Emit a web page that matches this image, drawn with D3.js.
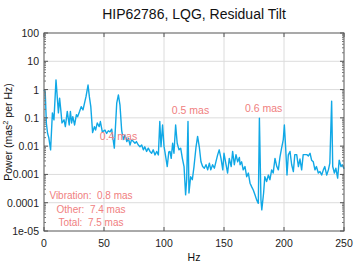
<!DOCTYPE html>
<html><head><meta charset="utf-8">
<script src="https://cdn.jsdelivr.net/npm/d3@7"></script>
<style>body{margin:0;background:#fff}svg{display:block;font-family:"Liberation Sans",Arial,sans-serif}text{white-space:pre}</style>
</head><body><svg id="c" width="362" height="273"></svg>
<script>
const freq = [0,1,2,3,4,5.5,7,8.3,10,11.4,12,13,14,15,16.7,17.8,19.4,21,22,23,24,25.5,27,28,29.7,31,32.5,34,35,36.7,37.8,39,40.5,42,43,44.4,46,47,48.6,
50.8,52.2,53.6,55,56.4,58.6,60.6,62,63.3,64.7,66,67.5,69,70.3,71.7,73,74.5,75.8,77,78.6,80,81.4,82.8,84,85.5,86.9,88.3,89.7,91,92.5,93.9,95.3,96.5,97.5,98.8,
100,101.5,102.7,104,105,106,107.2,108.3,109.7,111,112.5,113.9,115.3,116.7,118,118.9,120,120.8,122.2,123.6,125,126.7,128,129.4,130.8,132.2,133.6,135,136.4,137.8,139,140.5,142,143,144.7,146,147.5,149,
150,151.7,153,154.4,156,157.2,158.6,160,161.4,162.8,163.4,164.7,166,167.5,168.9,170.3,171.7,173,174.4,175.8,177.2,178.6,179.5,180.8,181.5,183,184,185.5,187,188.3,189.7,191,192.5,194,195.3,196.7,198,199.4,
200.3,201.4,202.5,203.6,205,206.4,207.8,209,210.6,212,213.3,214.7,216,217.5,219,220.3,221.7,223,224.4,225.8,227,228.6,230,231.4,232.8,234,235.6,237,238.2,239.7,240.6,242,243.2,244.7,246,247.5,248.6,250];
const power = [1,0.83,0.063,0.028,0.02,0.0074,0.15,0.085,2.2,0.34,0.15,0.5,0.19,0.066,0.085,0.049,0.17,0.056,0.17,0.066,0.11,0.056,0.13,0.11,0.17,0.25,0.19,0.37,0.56,1.45,0.56,0.25,0.03,0.049,0.037,0.066,0.049,0.074,0.032,
0.037,0.028,0.035,0.032,0.04,0.0085,0.33,0.65,0.29,0.037,0.017,0.025,0.0145,0.019,0.011,0.017,0.0145,0.0126,0.0145,0.011,0.0095,0.011,0.0074,0.0095,0.0065,0.0085,0.0065,0.0056,0.0074,0.0049,0.0065,0.0049,0.074,0.0095,0.056,
0.01,0.004,0.0019,0.0063,0.0065,0.0037,0.0126,0.0056,0.056,0.0126,0.0074,0.0085,0.0037,0.0019,0.00019,0.00065,0.074,0.00022,0.00083,0.00065,0.0019,0.0095,0.022,0.0095,0.0028,0.0019,0.00166,0.0022,0.00145,0.0025,0.00145,0.0022,0.00166,0.0025,0.0049,0.0074,0.0037,0.00145,
0.0056,0.0022,0.00112,0.0037,0.0019,0.0065,0.0022,0.005,0.0028,0.004,0.0022,0.0028,0.00145,0.0019,0.00083,0.00112,0.00049,0.00037,0.00028,0.00019,0.000126,0.000095,0.098,0.000126,0.000056,0.00022,0.00083,0.00056,0.00095,0.00065,0.00145,0.00112,0.0037,0.0019,0.00145,0.0043,0.0085,0.017,
0.056,0.0085,0.00095,0.0049,0.0065,0.0022,0.00126,0.005,0.005,0.0019,0.0035,0.00145,0.005,0.005,0.005,0.0045,0.0056,0.0032,0.0028,0.00145,0.0019,0.00112,0.00126,0.00095,0.00145,0.0019,0.00095,0.00145,0.0025,0.39,0.0019,0.00112,0.00166,0.00074,0.0032,0.0019,0.0022,0.0016];
const xTicks = [0,50,100,150,200,250];
const yTicks = [100,10,1,0.1,0.01,0.001,0.0001,0.00001];
const yTickLabels = ["100","10","1","0.1","0.01","0.001","0.0001","1e-05"];
const peakLabels = [{f:46.5,p:0.016,t:"0.4 mas"},{f:106.5,p:0.135,t:"0.5 mas"},{f:167.5,p:0.16,t:"0.6 mas"}];
const summaryLabels = ["Vibration:  0.8 mas","Other:  7.4 mas","Total:  7.5 mas"];

const svg = d3.select("#c");
const L=44,R=344,T=33,B=231;
const x = d3.scaleLinear().domain([0,250]).range([L,R]);
const y = d3.scaleLog().domain([1e-5,100]).range([B,T]);
const red = "#f08080";

// grid
svg.append("g").selectAll("line").data(xTicks.slice(1,-1)).join("line")
  .attr("x1",d=>x(d)).attr("x2",d=>x(d)).attr("y1",T).attr("y2",B)
  .attr("stroke","#dcdcdc").attr("stroke-width",1);
svg.append("g").selectAll("line").data(yTicks.slice(1,-1)).join("line")
  .attr("x1",L).attr("x2",R).attr("y1",d=>y(d)).attr("y2",d=>y(d))
  .attr("stroke","#dcdcdc").attr("stroke-width",1);

// data line
const line = d3.line().x((d,i)=>x(freq[i])).y((d,i)=>y(power[i]));
svg.append("path").datum(power).attr("d",line).attr("fill","none")
  .attr("stroke","#10a8e6").attr("stroke-width",1.4).attr("stroke-linejoin","round");

// frame
svg.append("rect").attr("x",L).attr("y",T).attr("width",R-L).attr("height",B-T)
  .attr("fill","none").attr("stroke","#555").attr("stroke-width",1);

// axes
const minor = [];
for (let e=-5;e<2;e++) for (let k=2;k<10;k++) minor.push(k*Math.pow(10,e));
const ax = svg.append("g").attr("font-size",10.5).attr("fill","#222");
xTicks.forEach(t=>{
  ax.append("line").attr("x1",x(t)).attr("x2",x(t)).attr("y1",B).attr("y2",B-4).attr("stroke","#555");
  ax.append("line").attr("x1",x(t)).attr("x2",x(t)).attr("y1",T).attr("y2",T+4).attr("stroke","#555");
  ax.append("text").attr("x",x(t)).attr("y",B+16).attr("text-anchor","middle").text(t);
});
yTicks.forEach((t,i)=>{
  ax.append("line").attr("x1",L).attr("x2",L+4).attr("y1",y(t)).attr("y2",y(t)).attr("stroke","#555");
  ax.append("line").attr("x1",R).attr("x2",R-4).attr("y1",y(t)).attr("y2",y(t)).attr("stroke","#555");
  ax.append("text").attr("x",L-5).attr("y",y(t)+4).attr("text-anchor","end").text(yTickLabels[i]);
});
minor.forEach(t=>{
  ax.append("line").attr("x1",L).attr("x2",L+2).attr("y1",y(t)).attr("y2",y(t)).attr("stroke","#777");
  ax.append("line").attr("x1",R).attr("x2",R-2).attr("y1",y(t)).attr("y2",y(t)).attr("stroke","#777");
});

// titles
svg.append("text").attr("x",(L+R)/2).attr("y",19).attr("text-anchor","middle")
  .attr("font-size",14).attr("fill","#111").text("HIP62786, LQG, Residual Tilt");
svg.append("text").attr("x",(L+R)/2).attr("y",261).attr("text-anchor","middle")
  .attr("font-size",10.5).attr("fill","#111").text("Hz");
const yl = svg.append("text").attr("transform",`translate(12,${(T+B)/2}) rotate(-90)`)
  .attr("text-anchor","middle").attr("font-size",10.5).attr("fill","#111");
yl.append("tspan").text("Power (mas");
yl.append("tspan").attr("dy",-4).attr("font-size",7.5).text("2");
yl.append("tspan").attr("dy",4).text(" per Hz)");

// annotations
svg.append("g").selectAll("text").data(peakLabels).join("text")
  .attr("x",d=>x(d.f)).attr("y",d=>y(d.p)).attr("font-size",10.5).attr("fill",red).text(d=>d.t);
svg.append("g").selectAll("text").data(summaryLabels).join("text")
  .attr("x",91).attr("y",(d,i)=>199+i*13.5).attr("text-anchor","middle")
  .attr("font-size",10).attr("fill",red).text(d=>d);
</script></body></html>
